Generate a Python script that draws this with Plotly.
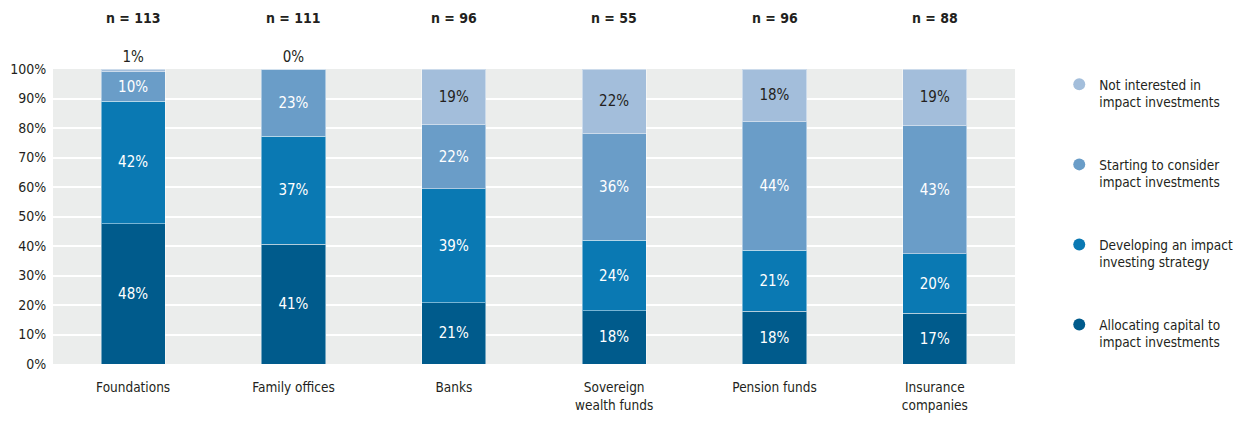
import plotly.graph_objects as go

categories = ["Foundations", "Family offices", "Banks", "Sovereign<br>wealth funds", "Pension funds", "Insurance<br>companies"]
n_labels = ["n = 113", "n = 111", "n = 96", "n = 55", "n = 96", "n = 88"]

allocating = [48, 41, 21, 18, 18, 17]
developing = [42, 37, 39, 24, 21, 20]
starting = [10, 23, 22, 36, 44, 43]
not_interested = [1, 0, 19, 22, 18, 19]

series_names = [
    "Allocating capital to<br>impact investments",
    "Developing an impact<br>investing strategy",
    "Starting to consider<br>impact investments",
    "Not interested in<br>impact investments",
]
series_values = [allocating, developing, starting, not_interested]
colors = ["#005B8C", "#0A79B3", "#6A9DC8", "#A3BEDB"]
label_colors = ["white", "white", "white", "#231F20"]

FONT = "DejaVu Sans Condensed, Liberation Sans Narrow, sans-serif"
DARK = "#231F20"

# normalise rounded percentages so each bar fills 100%
totals = [sum(v[i] for v in series_values) for i in range(len(categories))]
shares = [[v[i] / totals[i] * 100 for i in range(len(categories))] for v in series_values]

fig = go.Figure()
for k, (name, vals, sh, col, lc) in enumerate(zip(series_names, series_values, shares, colors, label_colors)):
    is_top = k == len(series_names) - 1
    positions = ["outside" if (is_top and v < 5) else "inside" for v in vals]
    fig.add_trace(go.Bar(
        x=categories, y=sh, name=name,
        marker=dict(color=col, line=dict(color="rgba(255,255,255,0.45)", width=1)),
        text=[f"{v}%" for v in vals],
        textposition=positions,
        insidetextanchor="middle",
        textangle=0,
        constraintext="none",
        insidetextfont=dict(family=FONT, size=15, color=lc),
        outsidetextfont=dict(family=FONT, size=15, color=DARK),
        cliponaxis=False,
        showlegend=False,
        hoverinfo="skip",
    ))

# legend entries with circle symbols (top to bottom)
for k in reversed(range(len(series_names))):
    fig.add_trace(go.Scatter(
        x=[None], y=[None], mode="markers", name=series_names[k],
        marker=dict(color=colors[k], size=18, symbol="circle"),
        legendgroup=f"g{k}", showlegend=True,
    ))

for cat, lab in zip(categories, n_labels):
    fig.add_annotation(x=cat, y=1.173, xref="x", yref="paper", yanchor="middle",
                       text=f"<b>{lab}</b>",
                       showarrow=False, font=dict(family=FONT, size=14, color=DARK))

fig.update_layout(
    barmode="stack",
    bargap=0.6,
    width=1235, height=407,
    margin=dict(l=45, r=228, t=61, b=51, autoexpand=False),
    paper_bgcolor="white",
    plot_bgcolor="#EBEDEC",
    font=dict(family=FONT, color=DARK),
    legend=dict(
        x=1.046, xanchor="left", y=1.0, yanchor="top",
        font=dict(family=FONT, size=13.5, color=DARK),
        tracegroupgap=42, valign="top",
        itemsizing="constant",
        bgcolor="rgba(0,0,0,0)",
        maxheight=400,
    ),
)
fig.update_xaxes(
    showgrid=False, showline=False, zeroline=False,
    ticks="outside", ticklen=11, tickcolor="rgba(0,0,0,0)",
    tickfont=dict(family=FONT, size=13.5, color=DARK),
    automargin=False,
)
fig.update_yaxes(
    range=[0, 100], tickvals=list(range(0, 101, 10)),
    ticktext=[f"{v}%" for v in range(0, 101, 10)],
    showgrid=True, gridcolor="white", gridwidth=2,
    zeroline=False, showline=False,
    ticks="outside", ticklen=3, tickcolor="rgba(0,0,0,0)",
    tickfont=dict(family=FONT, size=14, color=DARK),
    automargin=False,
)

fig.write_html("out.html")
